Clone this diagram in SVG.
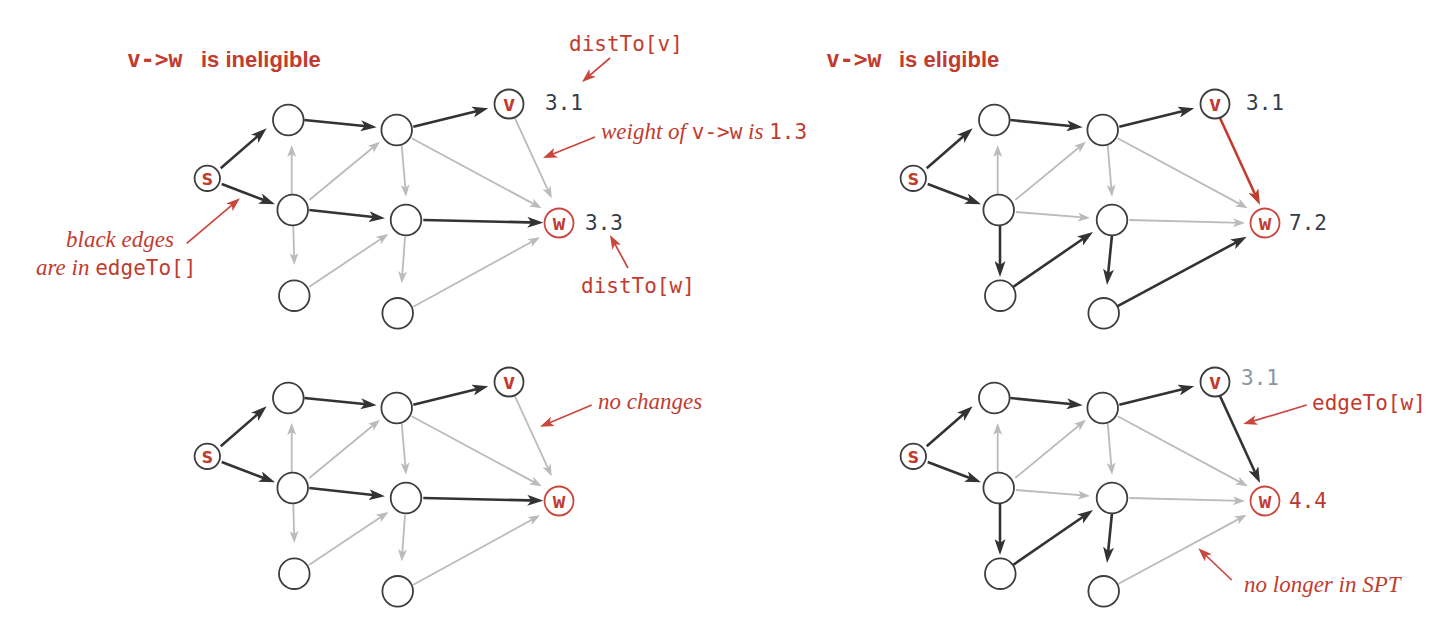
<svg xmlns="http://www.w3.org/2000/svg" width="1441" height="641" viewBox="0 0 1441 641">
<style>
.n{fill:#fff;stroke:#3d3d3d;stroke-width:1.8}
.nw{fill:#fff;stroke:#c9473e;stroke-width:1.8}
.lbl{font-family:"DejaVu Sans Mono",monospace;font-weight:bold;font-size:21px;fill:#c23b2f;text-anchor:middle}
.dk{stroke:#333;stroke-width:2.6;fill:none;marker-end:url(#ad)}
.gr{stroke:#bbbbbb;stroke-width:1.8;fill:none;marker-end:url(#ag)}
.rd{stroke:#c23b2f;stroke-width:2.6;fill:none;marker-end:url(#ar)}
.an{stroke:#c9463d;stroke-width:1.7;fill:none;marker-end:url(#aa)}
.num{font-family:"DejaVu Sans Mono",monospace;font-size:21px;fill:#353c4a}
.it{font-family:"Liberation Serif",serif;font-style:italic;font-size:23px;fill:#c23b2f}
.mono{font-family:"DejaVu Sans Mono",monospace;font-style:normal;font-size:21px;fill:#c23b2f}
.tm{font-family:"DejaVu Sans Mono",monospace;font-weight:bold;font-size:23px;fill:#c23b2f}
.ts{font-family:"Liberation Sans",sans-serif;font-weight:bold;font-size:22px;fill:#c23b2f}
</style>
<defs>
<marker id="ad" markerUnits="userSpaceOnUse" viewBox="0 0 16 11" markerWidth="16" markerHeight="11" refX="11" refY="5.5" orient="auto"><path d="M0,0 L16,5.5 L0,11 L4,5.5 Z" fill="#333"/></marker>
<marker id="ag" markerUnits="userSpaceOnUse" viewBox="0 0 12 9" markerWidth="12" markerHeight="9" refX="8" refY="4.5" orient="auto"><path d="M0,0 L12,4.5 L0,9 L3,4.5 Z" fill="#bbbbbb"/></marker>
<marker id="ar" markerUnits="userSpaceOnUse" viewBox="0 0 16 11" markerWidth="16" markerHeight="11" refX="11" refY="5.5" orient="auto"><path d="M0,0 L16,5.5 L0,11 L4,5.5 Z" fill="#c23b2f"/></marker>
<marker id="aa" markerUnits="userSpaceOnUse" viewBox="0 0 14 10" markerWidth="14" markerHeight="10" refX="10" refY="5" orient="auto"><path d="M0,0 L14,5 L0,10 L3.5,5 Z" fill="#c9463d"/></marker>
</defs>

<!-- Panel top-left -->
<g id="panel-tl">
<g id="tl-connectors">
<line class="dk" x1="220.7" y1="168.3" x2="262.9" y2="131.6"/>
<line class="dk" x1="221.7" y1="184" x2="270.3" y2="202.5"/>
<line class="dk" x1="304.3" y1="120" x2="371.7" y2="126.8"/>
<line class="dk" x1="309.3" y1="210" x2="380" y2="217.8"/>
<line class="dk" x1="413.3" y1="126.7" x2="483.4" y2="109.5"/>
<line class="dk" x1="423.3" y1="220" x2="538.3" y2="222.6"/>
<line class="gr" x1="291.7" y1="194.7" x2="291.7" y2="149"/>
<line class="gr" x1="309.3" y1="200" x2="376.9" y2="144.2"/>
<line class="gr" x1="293.3" y1="225" x2="294.2" y2="261"/>
<line class="gr" x1="309.3" y1="286.7" x2="385" y2="236.2"/>
<line class="gr" x1="401.7" y1="145" x2="405.7" y2="192.7"/>
<line class="gr" x1="405" y1="236.7" x2="402" y2="279.3"/>
<line class="gr" x1="411.7" y1="138.3" x2="538.2" y2="206.4"/>
<line class="gr" x1="413.3" y1="306.7" x2="536.5" y2="239.2"/>
<line class="gr" x1="515" y1="118.3" x2="550" y2="194.7"/>
</g>
<g id="tl-s"><circle class="n" cx="207.3" cy="178.3" r="12.7"/><text class="lbl" x="207.3" y="184.5">s</text></g>
<g id="tl-a"><circle class="n" cx="288.3" cy="120" r="15.3"/></g>
<g id="tl-b"><circle class="n" cx="292.7" cy="210" r="15.3"/></g>
<g id="tl-c"><circle class="n" cx="294.3" cy="295.7" r="15.3"/></g>
<g id="tl-d"><circle class="n" cx="396.7" cy="130" r="15.3"/></g>
<g id="tl-e"><circle class="n" cx="406" cy="220" r="15.3"/></g>
<g id="tl-f"><circle class="n" cx="397.7" cy="313.3" r="15.3"/></g>
<g id="tl-v"><circle class="n" cx="509" cy="104" r="14.5"/><text class="lbl" x="509" y="110.5">v</text></g>
<g id="tl-w"><circle class="nw" cx="559" cy="223" r="14.5"/><text class="lbl" x="559" y="229.5">w</text></g>
</g>

<!-- Panel bottom-left -->
<g id="panel-bl" transform="translate(0,278)">
<g id="bl-connectors">
<line class="dk" x1="220.7" y1="168.3" x2="262.9" y2="131.6"/>
<line class="dk" x1="221.7" y1="184" x2="270.3" y2="202.5"/>
<line class="dk" x1="304.3" y1="120" x2="371.7" y2="126.8"/>
<line class="dk" x1="309.3" y1="210" x2="380" y2="217.8"/>
<line class="dk" x1="413.3" y1="126.7" x2="483.4" y2="109.5"/>
<line class="dk" x1="423.3" y1="220" x2="538.3" y2="222.6"/>
<line class="gr" x1="291.7" y1="194.7" x2="291.7" y2="149"/>
<line class="gr" x1="309.3" y1="200" x2="376.9" y2="144.2"/>
<line class="gr" x1="293.3" y1="225" x2="294.2" y2="261"/>
<line class="gr" x1="309.3" y1="286.7" x2="385" y2="236.2"/>
<line class="gr" x1="401.7" y1="145" x2="405.7" y2="192.7"/>
<line class="gr" x1="405" y1="236.7" x2="402" y2="279.3"/>
<line class="gr" x1="411.7" y1="138.3" x2="538.2" y2="206.4"/>
<line class="gr" x1="413.3" y1="306.7" x2="536.5" y2="239.2"/>
<line class="gr" x1="515" y1="118.3" x2="550" y2="194.7"/>
</g>
<g id="bl-s"><circle class="n" cx="207.3" cy="178.3" r="12.7"/><text class="lbl" x="207.3" y="184.5">s</text></g>
<g id="bl-a"><circle class="n" cx="288.3" cy="120" r="15.3"/></g>
<g id="bl-b"><circle class="n" cx="292.7" cy="210" r="15.3"/></g>
<g id="bl-c"><circle class="n" cx="294.3" cy="295.7" r="15.3"/></g>
<g id="bl-d"><circle class="n" cx="396.7" cy="130" r="15.3"/></g>
<g id="bl-e"><circle class="n" cx="406" cy="220" r="15.3"/></g>
<g id="bl-f"><circle class="n" cx="397.7" cy="313.3" r="15.3"/></g>
<g id="bl-v"><circle class="n" cx="509" cy="104" r="14.5"/><text class="lbl" x="509" y="110.5">v</text></g>
<g id="bl-w"><circle class="nw" cx="559" cy="223" r="14.5"/><text class="lbl" x="559" y="229.5">w</text></g>
</g>

<!-- Panel top-right -->
<g id="panel-tr" transform="translate(706,0)">
<g id="tr-connectors">
<line class="dk" x1="220.7" y1="168.3" x2="262.9" y2="131.6"/>
<line class="dk" x1="221.7" y1="184" x2="270.3" y2="202.5"/>
<line class="dk" x1="304.3" y1="120" x2="371.7" y2="126.8"/>
<line class="dk" x1="413.3" y1="126.7" x2="483.4" y2="109.5"/>
<line class="dk" x1="294" y1="225" x2="294" y2="272"/>
<line class="dk" x1="307" y1="287" x2="382.9" y2="234.8"/>
<line class="dk" x1="406" y1="235" x2="401.5" y2="280"/>
<line class="dk" x1="410.7" y1="306.7" x2="536.3" y2="239.1"/>
<line class="rd" x1="514" y1="118" x2="551.9" y2="200.5"/>
<line class="gr" x1="291.7" y1="194.7" x2="291.7" y2="149"/>
<line class="gr" x1="309.3" y1="200" x2="376.9" y2="144.2"/>
<line class="gr" x1="310" y1="212" x2="380" y2="217.7"/>
<line class="gr" x1="401.7" y1="145" x2="405.7" y2="192.7"/>
<line class="gr" x1="411.7" y1="138.3" x2="538.2" y2="206.4"/>
<line class="gr" x1="423.3" y1="220" x2="535" y2="222.9"/>
</g>
<g id="tr-s"><circle class="n" cx="207.3" cy="178.3" r="12.7"/><text class="lbl" x="207.3" y="184.5">s</text></g>
<g id="tr-a"><circle class="n" cx="288.3" cy="120" r="15.3"/></g>
<g id="tr-b"><circle class="n" cx="292.7" cy="210" r="15.3"/></g>
<g id="tr-c"><circle class="n" cx="294.3" cy="295.7" r="15.3"/></g>
<g id="tr-d"><circle class="n" cx="396.7" cy="130" r="15.3"/></g>
<g id="tr-e"><circle class="n" cx="406" cy="220" r="15.3"/></g>
<g id="tr-f"><circle class="n" cx="397.7" cy="313.3" r="15.3"/></g>
<g id="tr-v"><circle class="n" cx="509" cy="104" r="14.5"/><text class="lbl" x="509" y="110.5">v</text></g>
<g id="tr-w"><circle class="nw" cx="559" cy="223" r="14.5"/><text class="lbl" x="559" y="229.5">w</text></g>
</g>

<!-- Panel bottom-right -->
<g id="panel-br" transform="translate(706,278)">
<g id="br-connectors">
<line class="dk" x1="220.7" y1="168.3" x2="262.9" y2="131.6"/>
<line class="dk" x1="221.7" y1="184" x2="270.3" y2="202.5"/>
<line class="dk" x1="304.3" y1="120" x2="371.7" y2="126.8"/>
<line class="dk" x1="413.3" y1="126.7" x2="483.4" y2="109.5"/>
<line class="dk" x1="294" y1="225" x2="294" y2="272"/>
<line class="dk" x1="307" y1="287" x2="382.9" y2="234.8"/>
<line class="dk" x1="406" y1="235" x2="401.5" y2="280"/>
<line class="dk" x1="514" y1="118" x2="551.9" y2="200.5"/>
<line class="gr" x1="410.7" y1="306.7" x2="537.2" y2="238.6"/>
<line class="gr" x1="291.7" y1="194.7" x2="291.7" y2="149"/>
<line class="gr" x1="309.3" y1="200" x2="376.9" y2="144.2"/>
<line class="gr" x1="310" y1="212" x2="380" y2="217.7"/>
<line class="gr" x1="401.7" y1="145" x2="405.7" y2="192.7"/>
<line class="gr" x1="411.7" y1="138.3" x2="538.2" y2="206.4"/>
<line class="gr" x1="423.3" y1="220" x2="535" y2="222.9"/>
</g>
<g id="br-s"><circle class="n" cx="207.3" cy="178.3" r="12.7"/><text class="lbl" x="207.3" y="184.5">s</text></g>
<g id="br-a"><circle class="n" cx="288.3" cy="120" r="15.3"/></g>
<g id="br-b"><circle class="n" cx="292.7" cy="210" r="15.3"/></g>
<g id="br-c"><circle class="n" cx="294.3" cy="295.7" r="15.3"/></g>
<g id="br-d"><circle class="n" cx="396.7" cy="130" r="15.3"/></g>
<g id="br-e"><circle class="n" cx="406" cy="220" r="15.3"/></g>
<g id="br-f"><circle class="n" cx="397.7" cy="313.3" r="15.3"/></g>
<g id="br-v"><circle class="n" cx="509" cy="104" r="14.5"/><text class="lbl" x="509" y="110.5">v</text></g>
<g id="br-w"><circle class="nw" cx="559" cy="223" r="14.5"/><text class="lbl" x="559" y="229.5">w</text></g>
</g>

<!-- Annotations -->
<g id="annotation-arrows">
<line class="an" x1="610" y1="58" x2="585" y2="79.4"/>
<line class="an" x1="595" y1="137" x2="546.7" y2="156.5"/>
<line class="an" x1="628" y1="268" x2="611.9" y2="238.5"/>
<line class="an" x1="186.7" y1="243.3" x2="236.9" y2="200.9"/>
<line class="an" x1="591.7" y1="405" x2="543.7" y2="425.2"/>
<line class="an" x1="1306.7" y1="405" x2="1247.1" y2="422.9"/>
<line class="an" x1="1231.7" y1="580" x2="1201.2" y2="551"/>
</g>
<g id="labels">
<text x="127" y="67"><tspan class="tm">v-&gt;w</tspan><tspan class="ts" x="201">is ineligible</tspan></text>
<text x="826" y="67"><tspan class="tm">v-&gt;w</tspan><tspan class="ts" x="899">is eligible</tspan></text>
<text class="mono" x="569" y="51">distTo[v]</text>
<text class="num" x="545" y="110">3.1</text>
<text class="it" x="601" y="139">weight of <tspan class="mono">v-&gt;w</tspan> is <tspan class="mono">1.3</tspan></text>
<text class="num" x="585" y="230">3.3</text>
<text class="mono" x="581" y="293">distTo[w]</text>
<text class="it" x="66" y="247">black edges</text>
<text class="it" x="36" y="275">are in <tspan class="mono">edgeTo[]</tspan></text>
<text class="it" x="598" y="409">no changes</text>
<text class="num" x="1246" y="110">3.1</text>
<text class="num" x="1289" y="230">7.2</text>
<text class="num" x="1241" y="385" style="fill:#8a95a6">3.1</text>
<text class="mono" x="1312" y="410">edgeTo[w]</text>
<text class="num" x="1289" y="508" style="fill:#b8392f">4.4</text>
<text class="it" x="1244" y="592">no longer in SPT</text>
</g>
</svg>
